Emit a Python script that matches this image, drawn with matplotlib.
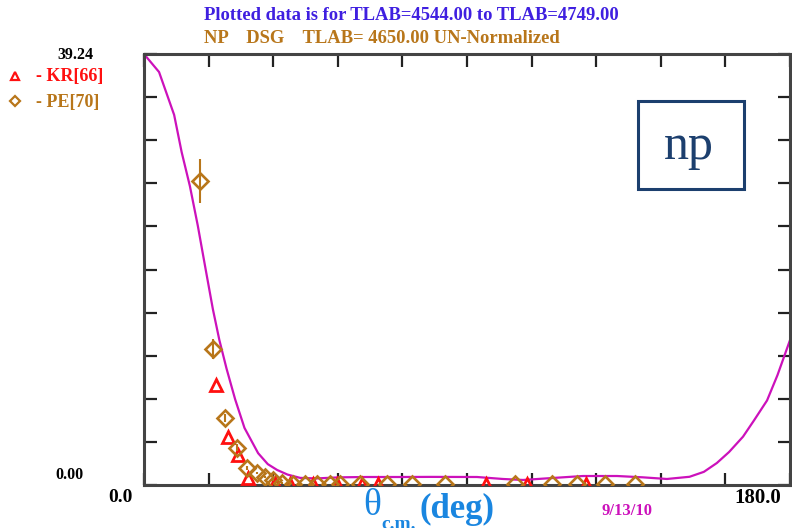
import matplotlib; matplotlib.use("Agg")
import matplotlib.pyplot as plt
from matplotlib.patches import Rectangle

# theory curve (theta_cm in deg, dsig/dOmega)
th_curve = [0, 4.2, 8.4, 10.5, 12.8, 15.0, 17.2, 19.2, 21.0, 23.0, 25.4, 28.0, 31.8, 34.5, 37.1,
            40.0, 43.5, 48.0, 54.6, 62.0, 71.3, 80.0, 92.8, 100.0, 105.6, 112.0, 122.3, 131.8,
            139.0, 145.7, 152.0, 156.0, 159.6, 163.0, 166.9, 170.0, 173.6, 176.5, 180.0]
xs_curve = [39.24, 37.6, 33.7, 30.3, 27.2, 23.6, 19.6, 16.0, 13.2, 10.6, 7.8, 5.2, 2.9, 1.9, 1.37,
            0.95, 0.65, 0.6, 0.7, 0.73, 0.73, 0.74, 0.73, 0.55, 0.46, 0.6, 0.82, 0.82,
            0.7, 0.55, 0.75, 1.2, 2.0, 3.0, 4.4, 5.9, 7.7, 10.0, 13.2]

# KR[66]
kr_th = [20.1, 23.4, 26.2, 29.0, 36.5, 40.7, 47.1, 53.8, 60.7, 65.2, 95.3, 106.7, 123.1]
kr_xs = [9.1, 4.4, 2.7, 0.64, 0.2, 0.1, 0.05, 0.05, 0.05, 0.05, 0.05, 0.05, 0.05]

# PE[70]
pe_th = [15.6, 19.2, 22.6, 25.9, 28.7, 31.5, 33.7, 35.9, 38.4, 41.5, 44.8, 48.2, 51.8, 54.6,
         60.2, 67.7, 74.7, 83.9, 103.4, 113.7, 120.6, 128.4, 136.8]
pe_xs = [27.7, 12.4, 6.1, 3.4, 1.55, 1.1, 0.73, 0.45, 0.18, 0.05, 0.05, 0.05, 0.05, 0.05,
         0.05, 0.05, 0.05, 0.05, 0.05, 0.05, 0.05, 0.05, 0.05]
pe_err = [2.0, 0.9, 0.4, 0.3, 0.2, 0.1, 0.1, 0.1, 0.1, 0, 0, 0, 0, 0,
          0, 0, 0, 0, 0, 0, 0, 0, 0]

ymax = 39.24
serif = ["Liberation Serif", "DejaVu Serif"]
brown = "#B8761A"
red = "#FF1010"
mag = "#CC11BB"
blue = "#1A86E0"

fig = plt.figure(figsize=(7.92, 5.28), dpi=100)
ax = fig.add_axes([0.1818, 0.0814, 0.8157, 0.8163])
ax.plot(th_curve, xs_curve, color=mag, lw=1.6, zorder=2)
ax.plot(kr_th, kr_xs, linestyle="none", marker="^", ms=8, mfc="none", mec=red, mew=2.0, zorder=3)
ax.errorbar(pe_th, pe_xs, yerr=pe_err, fmt="D", ms=8, mfc="none", mec=brown, mew=1.9,
            ecolor=brown, elinewidth=1.5, capsize=0, zorder=3)

ax.set_xlim(0, 180)
ax.set_ylim(0, ymax)
ax.set_xticks([18 * i for i in range(11)])
ax.set_yticks([ymax / 10 * i for i in range(11)])
ax.tick_params(direction="in", length=9, width=1.6, color="#222222", top=True, right=True,
               labelbottom=False, labelleft=False)
for s in ax.spines.values():
    s.set_linewidth(2.2)
    s.set_color("#444444")

# "np" box
ax.add_patch(Rectangle((0.764, 0.686), 0.164, 0.204, transform=ax.transAxes, fill=False,
                       ec="#1C3F6E", lw=2.2, zorder=4))
ax.text(0.844, 0.785, "np", transform=ax.transAxes, ha="center", va="center",
        fontsize=36, family=serif, color="#1C3F6E")

# headings
fig.text(0.519, 0.970, "Plotted data is for TLAB=4544.00 to TLAB=4749.00", ha="center",
         va="center", fontsize=13.4, fontweight="bold", family=serif, color="#3F1FE0")
fig.text(0.258, 0.927, "NP    DSG    TLAB= 4650.00 UN-Normalized", ha="left",
         va="center", fontsize=13.4, fontweight="bold", family=serif, color=brown)

# left-hand labels and legend
fig.text(0.095, 0.895, "39.24", ha="center", va="center", fontsize=11.5, fontweight="bold",
         family=serif, color="black")
fig.text(0.088, 0.101, "0.00", ha="center", va="center", fontsize=11.5, fontweight="bold",
         family=serif, color="black")
fig.text(0.152, 0.057, "0.0", ha="center", va="center", fontsize=14, fontweight="bold",
         family=serif, color="black")
fig.text(0.957, 0.057, "180.0", ha="center", va="center", fontsize=15, fontweight="bold",
         family=serif, color="black")
fig.lines.append(plt.Line2D([0.019], [0.857], transform=fig.transFigure, marker="^", ms=6,
                            mfc="none", mec=red, mew=1.6))
fig.lines.append(plt.Line2D([0.019], [0.808], transform=fig.transFigure, marker="D", ms=5.5,
                            mfc="none", mec=brown, mew=1.6))
fig.text(0.045, 0.855, "- KR[66]", ha="left", va="center", fontsize=13, fontweight="bold",
         family=serif, color=red)
fig.text(0.045, 0.806, "- PE[70]", ha="left", va="center", fontsize=13, fontweight="bold",
         family=serif, color=brown)

# axis title: theta, c.m. subscript, (deg)
fig.text(0.470, 0.043, "\u03b8", ha="center", va="center", fontsize=27, family=serif, color=blue)
fig.text(0.503, 0.006, "c.m.", ha="center", va="center", fontsize=14, fontweight="bold",
         family=serif, color=blue)
fig.text(0.577, 0.036, "(deg)", ha="center", va="center", fontsize=25, fontweight="bold",
         family=serif, color=blue)
fig.text(0.792, 0.033, "9/13/10", ha="center", va="center", fontsize=12, fontweight="bold",
         family=serif, color=mag)
fig.text(0.05, -0.012, "EXFOR REQUEST: 11192/2010/09/13 10:45:17 Page [117] P1", ha="left",
         va="center", fontsize=11, fontweight="bold", family=serif, color="#D08A30")

fig.savefig("out.png", dpi=100)
